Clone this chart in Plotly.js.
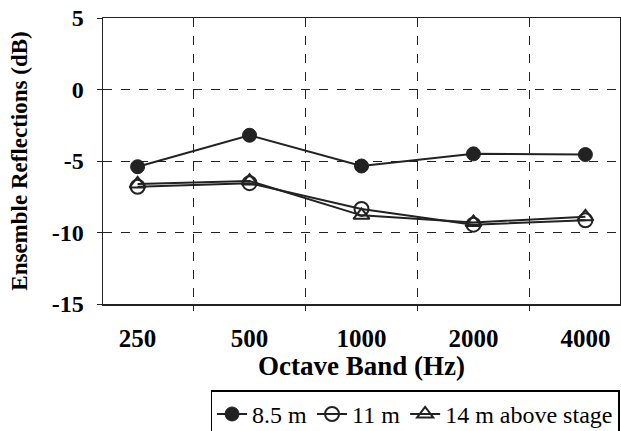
<!DOCTYPE html>
<html>
<head>
<meta charset="utf-8">
<script src="https://cdn.plot.ly/plotly-3.0.1.min.js"></script>
<style>html,body{margin:0;padding:0;background:#fff}#chart{width:621px;height:431px}</style>
</head>
<body>
<div id="chart"></div>
<script>
const bands = ["250", "500", "1000", "2000", "4000"];
const seriesNames = ["8.5 m", "11 m", "14 m above stage"];
const v85 = [-5.4, -3.2, -5.35, -4.5, -4.55];
const v11 = [-6.8, -6.55, -8.35, -9.45, -9.15];
const v14 = [-6.6, -6.4, -8.8, -9.3, -8.9];
const yTickVals = [-15, -10, -5, 0, 5];
const yTickText = ["-15", "-10", "-5", "0", "5"];

const lineStyle = {color: "#222", width: 2};
const traces = [
  {x: bands, y: v85, name: seriesNames[0], mode: "lines+markers", type: "scatter",
   line: lineStyle, marker: {symbol: "circle", size: 14, color: "#222", line: {color: "#222", width: 1}}},
  {x: bands, y: v11, name: seriesNames[1], mode: "lines+markers", type: "scatter",
   line: lineStyle, marker: {symbol: "circle-open", size: 14, color: "#222", line: {color: "#222", width: 2}}},
  {x: bands, y: v14, name: seriesNames[2], mode: "lines+markers", type: "scatter",
   line: lineStyle, marker: {symbol: "triangle-up-open", size: 14, color: "#222", line: {color: "#222", width: 2}}}
];

const FAM = "Liberation Serif";
const layout = {
  width: 621, height: 431,
  margin: {l: 103, r: 1, t: 18, b: 127, autoexpand: false},
  paper_bgcolor: "#fff", plot_bgcolor: "#fff",
  font: {family: FAM, size: 20, color: "#000"},
  showlegend: true,
  legend: {
    orientation: "h", x: 0.208, y: -0.302, xanchor: "left", yanchor: "top",
    bordercolor: "#000", borderwidth: 1.5, bgcolor: "#fff",
    font: {family: FAM, size: 24, color: "#000"},
    itemsizing: "trace", tracegroupgap: 0
  },
  xaxis: {
    type: "category",
    tickson: "boundaries",
    automargin: false,
    showgrid: true, gridcolor: "#222", griddash: "dash", gridwidth: 1,
    showline: true, linecolor: "#222", linewidth: 1.5, mirror: true,
    ticks: "outside", ticklen: 5, tickcolor: "#222",
    ticklabelstandoff: 11,
    tickfont: {family: FAM, size: 25, weight: "bold", color: "#000"},
    title: {text: "<b>Octave Band (Hz)</b>", font: {family: FAM, size: 27, color: "#000"}, standoff: 2},
    zeroline: false, fixedrange: true
  },
  yaxis: {
    range: [-15, 5], tickmode: "array", tickvals: yTickVals, ticktext: yTickText,
    automargin: false,
    showgrid: true, gridcolor: "#222", griddash: "dash", gridwidth: 1,
    showline: true, linecolor: "#222", linewidth: 1.5, mirror: true,
    ticks: "outside", ticklen: 5, tickcolor: "#222",
    ticklabelstandoff: 8,
    tickfont: {family: FAM, size: 24, weight: "bold", color: "#000"},
    title: {text: "<b>Ensemble Reflections (dB)</b>", font: {family: FAM, size: 23, color: "#000"}, standoff: 17},
    zeroline: false, fixedrange: true
  }
};
Plotly.newPlot("chart", traces, layout, {displayModeBar: false, staticPlot: true});
</script>
</body>
</html>
